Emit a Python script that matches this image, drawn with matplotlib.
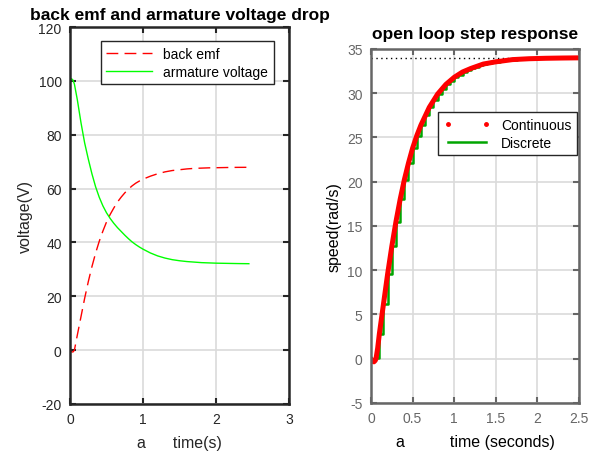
import matplotlib
matplotlib.use('Agg')
import matplotlib.pyplot as plt
from matplotlib.lines import Line2D

plt.rcParams['font.family'] = ['Liberation Sans', 'DejaVu Sans']
plt.rcParams['axes.unicode_minus'] = False

# left plot: back emf and armature voltage (V) vs time (s)
t_left = [0, 0.02, 0.04, 0.06, 0.1, 0.15, 0.2, 0.25, 0.3, 0.35, 0.4, 0.45, 0.5,
          0.55, 0.6, 0.65, 0.7, 0.75, 0.8, 0.85, 0.9, 0.95, 1.0, 1.1, 1.2, 1.3,
          1.4, 1.5, 1.6, 1.7, 1.8, 1.9, 2.0, 2.1, 2.2, 2.3, 2.45]
back_emf = [0, -0.6, -0.7, 0, 5.6, 12.4, 19.2, 25.4, 31.0, 36.0, 40.4, 44.2, 47.6,
            50.4, 52.8, 55.0, 56.8, 58.4, 59.8, 61.0, 62.0, 62.8, 63.5, 64.6, 65.5, 66.2,
            66.7, 67.0, 67.3, 67.5, 67.6, 67.7, 67.75, 67.8, 67.85, 67.88, 67.9]
arm_volt = [100, 100.8, 100.3, 98.8, 93.0, 84.5, 77.0, 71.0, 65.5, 60.7, 56.8, 53.6, 51.0,
            48.9, 47.1, 45.5, 44.1, 42.7, 41.4, 40.2, 39.2, 38.3, 37.5, 36.1, 35.0, 34.2,
            33.6, 33.2, 32.9, 32.7, 32.5, 32.4, 32.3, 32.25, 32.2, 32.15, 32.1]

# right plot: speed (rad/s), sampled every 0.05 s
t_disc = [0, 0.05, 0.1, 0.15, 0.2, 0.25, 0.3, 0.35, 0.4, 0.45, 0.5, 0.55, 0.6, 0.65,
          0.7, 0.75, 0.8, 0.85, 0.9, 0.95, 1.0, 1.05, 1.1, 1.15, 1.2, 1.25, 1.3, 1.35,
          1.4, 1.45, 1.5, 1.55, 1.6, 1.65, 1.7, 1.75, 1.8, 1.85, 1.9, 1.95, 2.0, 2.05,
          2.1, 2.15, 2.2, 2.25, 2.3, 2.35, 2.4, 2.45, 2.5]
speed_disc = [0, 0.1, 2.8, 6.2, 9.6, 12.7, 15.5, 18.0, 20.2, 22.1, 23.8, 25.2, 26.4, 27.5,
              28.4, 29.2, 29.9, 30.5, 31.0, 31.4, 31.8, 32.1, 32.4, 32.6, 32.8, 33.0, 33.15, 33.3,
              33.4, 33.5, 33.55, 33.6, 33.7, 33.75, 33.8, 33.82, 33.85, 33.88, 33.9, 33.92, 33.93, 33.94,
              33.95, 33.96, 33.97, 33.97, 33.98, 33.98, 33.99, 33.99, 34.0]
t_cont = [0, 0.02, 0.035, 0.05, 0.06, 0.08, 0.1, 0.15, 0.2, 0.25, 0.3, 0.35, 0.4, 0.45,
          0.5, 0.55, 0.6, 0.7, 0.8, 0.9, 1.0, 1.1, 1.2, 1.35, 1.5, 1.7, 1.9, 2.1, 2.3, 2.5]
speed_cont = [0, -0.3, -0.35, -0.2, 0, 1.2, 2.8, 6.2, 9.6, 12.7, 15.5, 18.0, 20.2, 22.1,
              23.8, 25.2, 26.4, 28.4, 29.9, 31.0, 31.8, 32.4, 32.8, 33.3, 33.55, 33.8, 33.9, 33.95, 33.98, 34.0]
final_speed = 34

fig = plt.figure(figsize=(5.99, 4.52), dpi=100)

# ---- left
ax1 = fig.add_axes([0.1169, 0.104, 0.3656, 0.834])
ax1.plot(t_left, back_emf, color='red', lw=1.0, dashes=(8.5, 4.5), label='back emf')
ax1.plot(t_left, arm_volt, color='#00ff00', lw=1.0, label='armature voltage')
ax1.set_xlim(0, 3)
ax1.set_ylim(-20, 120)
ax1.set_xticks([0, 1, 2, 3])
ax1.set_yticks(range(-20, 121, 20))
ax1.grid(True, color='#dadada', lw=1.2)
ax1.set_axisbelow(True)
ax1.tick_params(direction='in', top=True, right=True, length=4, width=1.5,
                colors='#262626', labelsize=10, pad=6)
for s in ax1.spines.values():
    s.set_color('#262626')
    s.set_linewidth(1.8)
ax1.set_title('back emf and armature voltage drop', fontsize=12.5, fontweight='bold', pad=6)
ax1.set_ylabel('voltage(V)', fontsize=11.5, color='#262626')
ax1.set_xlabel('a      time(s)', fontsize=11.5, color='#262626', labelpad=6)
leg1 = ax1.legend(loc='upper right', bbox_to_anchor=(0.93, 0.963), fontsize=10,
                  fancybox=False, framealpha=1, edgecolor='#262626', handlelength=3.3,
                  borderaxespad=0, borderpad=0.4, labelspacing=0.3)
leg1.get_frame().set_linewidth(1.0)

# ---- right
ax2 = fig.add_axes([0.6194, 0.1062, 0.3472, 0.7832])
ax2.axhline(final_speed, color='black', lw=1.0, ls=(0, (1, 2.5)))
ax2.step(t_disc, speed_disc, where='post', color='#00a500', lw=1.8)
ax2.plot(t_cont, speed_cont, color='red', lw=3.6, solid_capstyle='round')
ax2.set_xlim(0, 2.5)
ax2.set_ylim(-5, 35)
ax2.set_xticks([0, 0.5, 1, 1.5, 2, 2.5])
ax2.set_xticklabels(['0', '0.5', '1', '1.5', '2', '2.5'])
ax2.set_yticks(range(-5, 36, 5))
ax2.grid(True, color='#dadada', lw=1.2)
ax2.set_axisbelow(True)
ax2.tick_params(direction='in', top=True, right=True, length=4, width=1.5,
                colors='#666666', labelsize=10, pad=6)
for s in ax2.spines.values():
    s.set_color('#666666')
    s.set_linewidth(1.8)
ax2.set_title('open loop step response', fontsize=12.5, fontweight='bold', pad=8)
ax2.set_ylabel('speed(rad/s)', fontsize=11.5, color='black')
ax2.set_xlabel('a          time (seconds)', fontsize=11.5, color='black', labelpad=6)
handles = [Line2D([], [], color='red', marker='.', ls='none', markersize=5),
           Line2D([], [], color='#00a500', lw=1.8)]
leg2 = ax2.legend(handles, ['Continuous', 'Discrete'], loc='upper right',
                  bbox_to_anchor=(0.99, 0.822), numpoints=2, fontsize=10,
                  fancybox=False, framealpha=1, edgecolor='#262626', handlelength=3.3,
                  borderaxespad=0, borderpad=0.4, labelspacing=0.3)
leg2.get_frame().set_linewidth(1.0)

fig.savefig('out.png', dpi=100)
